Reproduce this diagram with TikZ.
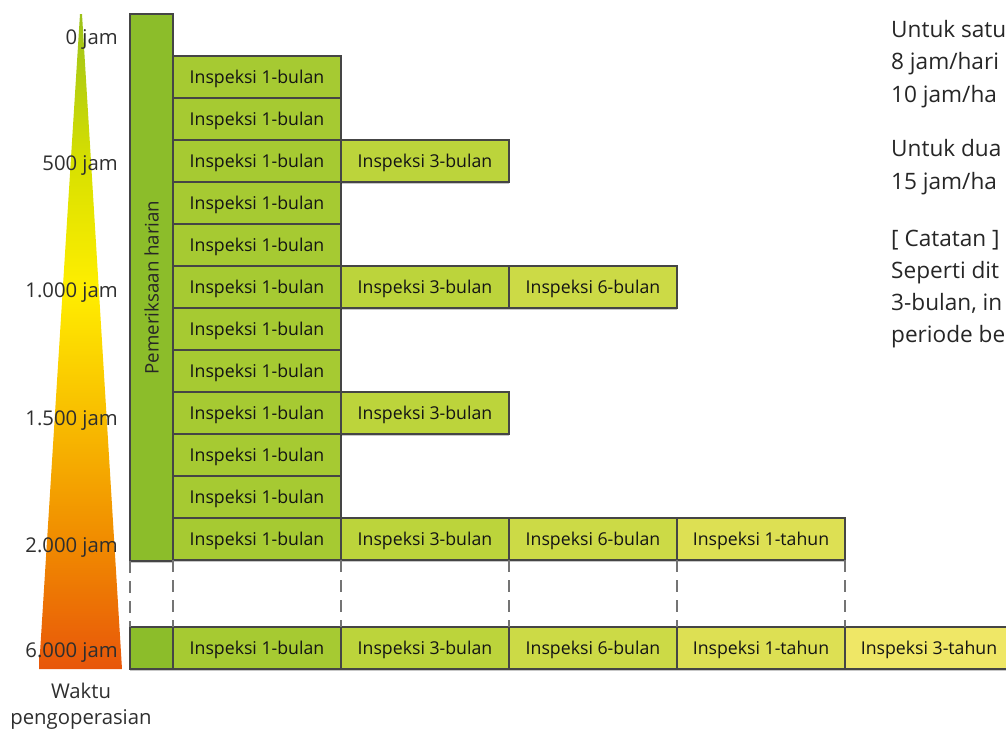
\documentclass[tikz,border=0pt]{standalone}
\usepackage{fontspec}
\setmainfont{Open Sans}
\usetikzlibrary{shadows}
\definecolor{cHar}{HTML}{8CBD2A}
\definecolor{cBa}{HTML}{A6CA32}
\definecolor{cBc}{HTML}{BCD43B}
\definecolor{cBf}{HTML}{CCDA46}
\definecolor{cTa}{HTML}{DDE053}
\definecolor{cTc}{HTML}{EFE766}
\definecolor{cLine}{HTML}{454545}
\definecolor{gA}{HTML}{E8560A}
\definecolor{gB}{HTML}{F08A00}
\definecolor{gC}{HTML}{F8BC00}
\definecolor{gD}{HTML}{FFEE00}
\definecolor{gE}{HTML}{D8E000}
\definecolor{gF}{HTML}{9CC21A}
\pgfdeclareverticalshading{gauge}{100bp}{color(0bp)=(gA); color(25bp)=(gA); color(34.5bp)=(gB); color(44bp)=(gC); color(54bp)=(gD); color(63.5bp)=(gE); color(75bp)=(gF); color(100bp)=(gF)}
\begin{document}
\begin{tikzpicture}[x=1pt,y=-1pt,
  box/.style={draw=cLine, line width=1.4pt, inner sep=0pt, outer sep=0pt,
    minimum width=168pt, minimum height=42pt, anchor=north west,
    font=\fontsize{17.7}{20}\selectfont, text=black!92,
    text height=12.7pt, text depth=0pt,
    drop shadow={shadow xshift=0pt, shadow yshift=-2pt, opacity=0.22, fill=black}},
  colbox/.style={box, minimum width=43pt},
  lbl/.style={font=\fontsize{20.3}{22}\selectfont, text=black!82, inner sep=0pt},
  note/.style={font=\fontsize{22.6}{24}\selectfont, text=black!85, inner sep=0pt, anchor=mid west},
  gapline/.style={draw=cLine!75, line width=1.8pt, dash pattern=on 12pt off 8pt}
]
\useasboundingbox (0,0) rectangle (1006,731);
\clip (0,0) rectangle (1006,731);

% gauge
\shade[shading=gauge] (80,14) -- (82,14) -- (122,669) -- (39,669) -- cycle;

% daily column
\node[colbox, fill=cHar, minimum height=547pt] (har) at (130,14) {};
\node[lbl, rotate=90, text=black!85, font=\fontsize{18.7}{20}\selectfont] (harT) at (har.center) {Pemeriksaan harian};

% monthly rows
\foreach \i in {1,...,12}
  \node[box, fill=cBa] (b\i) at (173,{56+42*(\i-1)}) {Inspeksi 1-bulan};

\node[box, fill=cBc] (m3) at (b3.north east) {Inspeksi 3-bulan};
\node[box, fill=cBc] (m6) at (b6.north east) {Inspeksi 3-bulan};
\node[box, fill=cBf] (s6) at (m6.north east) {Inspeksi 6-bulan};
\node[box, fill=cBc] (m9) at (b9.north east) {Inspeksi 3-bulan};
\node[box, fill=cBc] (m12) at (b12.north east) {Inspeksi 3-bulan};
\node[box, fill=cBf] (s12) at (m12.north east) {Inspeksi 6-bulan};
\node[box, fill=cTa] (t12) at (s12.north east) {Inspeksi 1-tahun};

% bottom row
\node[colbox, fill=cHar] (hb) at (130,627) {};
\node[box, fill=cBa] (z1) at (hb.north east) {Inspeksi 1-bulan};
\node[box, fill=cBc] (z2) at (z1.north east) {Inspeksi 3-bulan};
\node[box, fill=cBf] (z3) at (z2.north east) {Inspeksi 6-bulan};
\node[box, fill=cTa] (z4) at (z3.north east) {Inspeksi 1-tahun};
\node[box, fill=cTc] (z5) at (z4.north east) {Inspeksi 3-tahun};

% dashed gap lines
\draw[gapline] (har.south west) -- (hb.north west);
\draw[gapline] (b12.south west) -- (z1.north west);
\draw[gapline] (b12.south east) -- (z1.north east);
\draw[gapline] (m12.south east) -- (z2.north east);
\draw[gapline] (s12.south east) -- (z3.north east);
\draw[gapline] (t12.south east) -- (z4.north east);

% gauge labels
\node[lbl, anchor=mid east] (l0) at (118,42) {0 jam};
\node[lbl, anchor=mid east] (l500) at (118,168) {500 jam};
\node[lbl, anchor=mid east] (l1000) at (118,295) {1.000 jam};
\node[lbl, anchor=mid east] (l1500) at (118,423) {1.500 jam};
\node[lbl, anchor=mid east] (l2000) at (118,550) {2.000 jam};
\node[lbl, anchor=mid east] (l6000) at (118,655) {6.000 jam};
\node[lbl, anchor=mid] (w1) at (81,696) {Waktu};
\node[lbl, anchor=mid] (w2) at (81,722) {pengoperasian};

% notes (cut at the right edge)
\node[note] (n1) at (891,35) {Untuk satu};
\node[note] (n2) at (891,67) {8 jam/hari};
\node[note] (n3) at (891,100) {10 jam/ha};
\node[note] (n4) at (891,154) {Untuk dua};
\node[note] (n5) at (891,187) {15 jam/ha};
\node[note] (n6) at (891,244) {[ Catatan ]};
\node[note] (n7) at (891,276) {Seperti dit};
\node[note] (n8) at (891,308) {3-bulan, in};
\node[note] (n9) at (891,340) {periode be};
\end{tikzpicture}
\end{document}
